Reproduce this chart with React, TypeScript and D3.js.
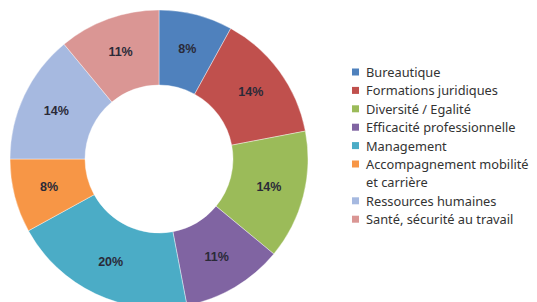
import React from "react";
import * as d3 from "d3";

const categories = [
  "Bureautique",
  "Formations juridiques",
  "Diversité / Egalité",
  "Efficacité professionnelle",
  "Management",
  "Accompagnement mobilité et carrière",
  "Ressources humaines",
  "Santé, sécurité au travail",
];
const values = [8, 14, 14, 11, 20, 8, 14, 11];
const colors = ["#4F81BD", "#C0504D", "#9BBB59", "#8064A2", "#4BACC6", "#F79646", "#A6B9E0", "#DA9694"];
const legendLines = [
  ["Bureautique"],
  ["Formations juridiques"],
  ["Diversité / Egalité"],
  ["Efficacité professionnelle"],
  ["Management"],
  ["Accompagnement mobilité", "et carrière"],
  ["Ressources humaines"],
  ["Santé, sécurité au travail"],
];

export default function App() {
  const W = 537, H = 302;
  const cx = 159, cy = 159, rOuter = 149, rInner = 74;
  const pie = d3.pie<number>().sort(null).value((d) => d);
  const arcs = pie(values);
  const arc = d3.arc<d3.PieArcDatum<number>>().innerRadius(rInner).outerRadius(rOuter);
  const labelArc = d3.arc<d3.PieArcDatum<number>>().innerRadius(rInner + 2).outerRadius(rOuter + 2);

  let row = 0;
  const rowH = 18.4;
  const legendY0 = 72;
  const legendItems = categories.map((c, i) => {
    const y = legendY0 + row * rowH;
    const lines = legendLines[i];
    row += lines.length;
    return { c, i, y, lines };
  });

  return (
    <svg width={W} height={H} style={{ position: "absolute", left: 0, top: 0, background: "#fff" }}>
      <g transform={`translate(${cx},${cy})`}>
        {arcs.map((a, i) => (
          <path key={i} d={arc(a) || ""} fill={colors[i]} stroke="#fff" strokeWidth={0.4} />
        ))}
        {arcs.map((a, i) => {
          const [x, y] = labelArc.centroid(a);
          return (
            <text
              key={i}
              x={x}
              y={y}
              textAnchor="middle"
              dominantBaseline="central"
              fontFamily="Liberation Sans, Arial, sans-serif"
              fontSize={12.5}
              fontWeight="bold"
              fill="#2a2a38"
            >
              {Math.round(values[i])}%
            </text>
          );
        })}
      </g>
      <g fontFamily="Noto Sans, sans-serif" fontSize={12.8} fill="#333">
        {legendItems.map(({ c, i, y, lines }) => (
          <g key={c}>
            <rect x={352} y={y - 3.5} width={7} height={7} fill={colors[i]} />
            {lines.map((ln, k) => (
              <text key={k} x={366} y={y + k * rowH} dominantBaseline="central">
                {ln}
              </text>
            ))}
          </g>
        ))}
      </g>
    </svg>
  );
}
